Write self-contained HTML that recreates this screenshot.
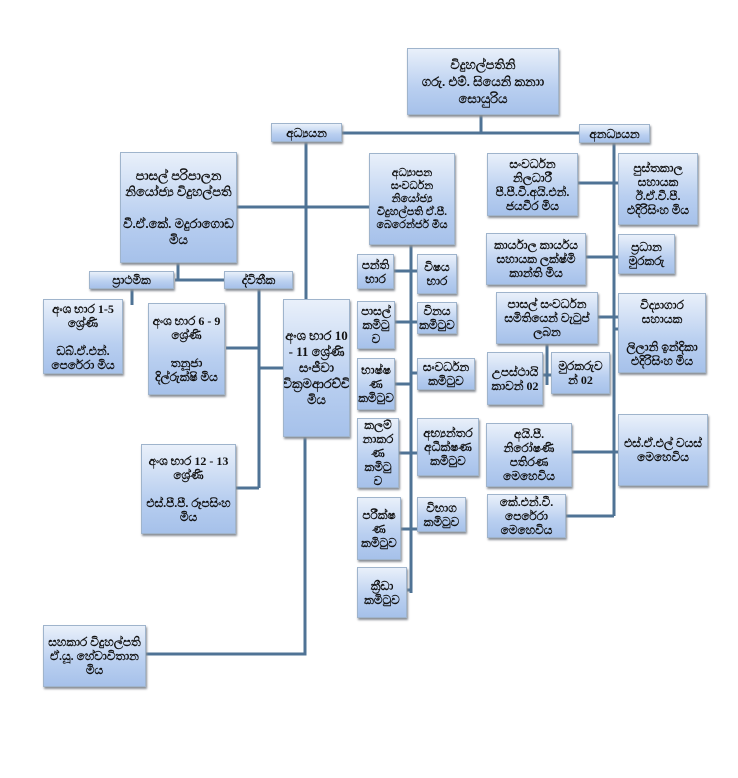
<!DOCTYPE html>
<html><head><meta charset="utf-8">
<style>
html,body{margin:0;padding:0;background:#fff;}
body{width:738px;height:778px;position:relative;overflow:hidden;font-family:"Liberation Serif","Noto Sans CJK SC",serif;}
.b{position:absolute;box-sizing:border-box;border:1px solid #9fb4cc;background:linear-gradient(#e9f0fa,#b9cff0 60%,#a6c1ea);box-shadow:1px 2px 2px #8a8f96;color:#111;font-size:12px;font-weight:bold;line-height:14px;text-align:center;display:flex;flex-direction:column;justify-content:center;align-items:center;overflow:hidden;padding:1px;}
svg{position:absolute;left:0;top:0;}
</style></head><body>
<svg width="738" height="778">
<g stroke="#4f7395" stroke-width="3" fill="none">
<path d="M481 115V133M300 133H580"/>
<path d="M306 142V300"/>
<path d="M236 207H369"/>
<path d="M178 263V280M175 280H225"/>
<path d="M132 289V305"/>
<path d="M259 289V488M226 348H259M259 368H283M236 488H259"/>
<path d="M305 437V654H146"/>
<path d="M411 245V593"/>
<path d="M394 271H417M395 322H417M395 384H411M411 373H417M399 453H417M401 529H417M407 590H411"/>
<path d="M614 142V516"/>
<path d="M578 183H618M584 257H618M598 317H618M614 329H618M572 452H618M566 516H614"/>
<path d="M547 344V385M543 375H551"/>
</g>
</svg>
<div class="b" style="left:407px;top:48px;width:152px;height:67px;font-size:13px;line-height:17px">විදුහල්පතිනි<br>ගරු. එම්. සියෙනි කනාා<br>සොයුරිය</div>
<div class="b" style="left:271px;top:123px;width:71px;height:19px">අධ්‍යයන</div>
<div class="b" style="left:579px;top:124px;width:71px;height:19px">අනධ්‍යයන</div>
<div class="b" style="left:120px;top:152px;width:117px;height:111px;font-size:13px;line-height:16px">පාසල් පරිපාලන නියෝජ්‍ය විදුහල්පති<br><br>වී.ඒ.කේ. මදුරාගොඩ මිය</div>
<div class="b" style="left:89px;top:271px;width:85px;height:18px">ප්‍රාථමික</div>
<div class="b" style="left:224px;top:271px;width:69px;height:18px">ද්විතීක</div>
<div class="b" style="left:43px;top:299px;width:80px;height:75px">අංශ භාර 1-5 ශ්‍රේණි<br><br>ඩබ්.ඒ.එන්. පෙරේරා මිය</div>
<div class="b" style="left:148px;top:303px;width:77px;height:92px">අංශ භාර 6 - 9 ශ්‍රේණි<br><br>තනූජා දිල්රුක්ෂි මිය</div>
<div class="b" style="left:283px;top:299px;width:67px;height:138px;font-size:13px;line-height:16px">අංශ භාර 10 - 11 ශ්‍රේණි<br>සංජීවා වික්‍රමආරච්චි මිය</div>
<div class="b" style="left:141px;top:444px;width:95px;height:90px">අංශ භාර 12 - 13 ශ්‍රේණි<br><br>එස්.පී.පී. රූපසිංහ මිය</div>
<div class="b" style="left:43px;top:625px;width:103px;height:62px">සහකාර විදුහල්පති ඒ.යූ. හේවාවිතාන මිය</div>
<div class="b" style="left:369px;top:153px;width:86px;height:92px;font-size:11px;line-height:13px">අධ්‍යාපන සංවර්ධන නියෝජ්‍ය විදුහල්පති ඒ.පී. බෙරෙන්ජර් මිය</div>
<div class="b" style="left:357px;top:254px;width:37px;height:35px">පන්ති භාර</div>
<div class="b" style="left:357px;top:301px;width:38px;height:48px">පාසල් කමිටු ව</div>
<div class="b" style="left:357px;top:358px;width:38px;height:52px">භාෂ්ෂ ණ කමිටුව</div>
<div class="b" style="left:357px;top:418px;width:42px;height:70px">කලම් නාකර ණ කමිටු ව</div>
<div class="b" style="left:357px;top:497px;width:44px;height:63px">පරීක්ෂ ණ කමිටුව</div>
<div class="b" style="left:357px;top:567px;width:50px;height:51px">ක්‍රීඩා කමිටුව</div>
<div class="b" style="left:417px;top:254px;width:40px;height:40px">විෂය භාර</div>
<div class="b" style="left:417px;top:302px;width:40px;height:32px">විනය කමිටුව</div>
<div class="b" style="left:417px;top:358px;width:58px;height:32px">සංවර්ධන කමිටුව</div>
<div class="b" style="left:417px;top:418px;width:62px;height:58px">අභ්‍යන්තර අධීක්ෂණ කමිටුව</div>
<div class="b" style="left:417px;top:497px;width:49px;height:35px">විභාග කමිටුව</div>
<div class="b" style="left:487px;top:153px;width:91px;height:63px">සංවර්ධන නිලධාරී<br>පී.පී.වී.අයි.එන්. ජයවීර මිය</div>
<div class="b" style="left:486px;top:233px;width:100px;height:52px">කාර්යාල කාර්යය සහායක ලක්ෂ්මි කාන්ති මිය</div>
<div class="b" style="left:496px;top:292px;width:102px;height:52px">පාසල් සංවර්ධන සමිතියෙන් වැටුප් ලබන</div>
<div class="b" style="left:487px;top:352px;width:56px;height:53px">උපස්ථායි කාවන් 02</div>
<div class="b" style="left:551px;top:352px;width:59px;height:42px">මුරකරුව න් 02</div>
<div class="b" style="left:486px;top:423px;width:86px;height:64px">අයි.පී. නිරෝෂණි පතිරණ මෙහෙවිය</div>
<div class="b" style="left:487px;top:494px;width:79px;height:44px">කේ.එන්.වී. පෙරේරා මෙහෙවිය</div>
<div class="b" style="left:618px;top:153px;width:80px;height:72px">පුස්තකාල සහායක<br>ඊ.ඒ.වී.පී. එදිරිසිංහ මිය</div>
<div class="b" style="left:618px;top:234px;width:57px;height:40px">ප්‍රධාන මුරකරු</div>
<div class="b" style="left:618px;top:293px;width:88px;height:80px">විද්‍යාගාර සහායක<br><br>ලිලානි ඉන්දිකා එදිරිසිංහ මිය</div>
<div class="b" style="left:618px;top:414px;width:90px;height:72px">එස්.ඒ.එල් වයස් මෙහෙවිය</div>
</body></html>
